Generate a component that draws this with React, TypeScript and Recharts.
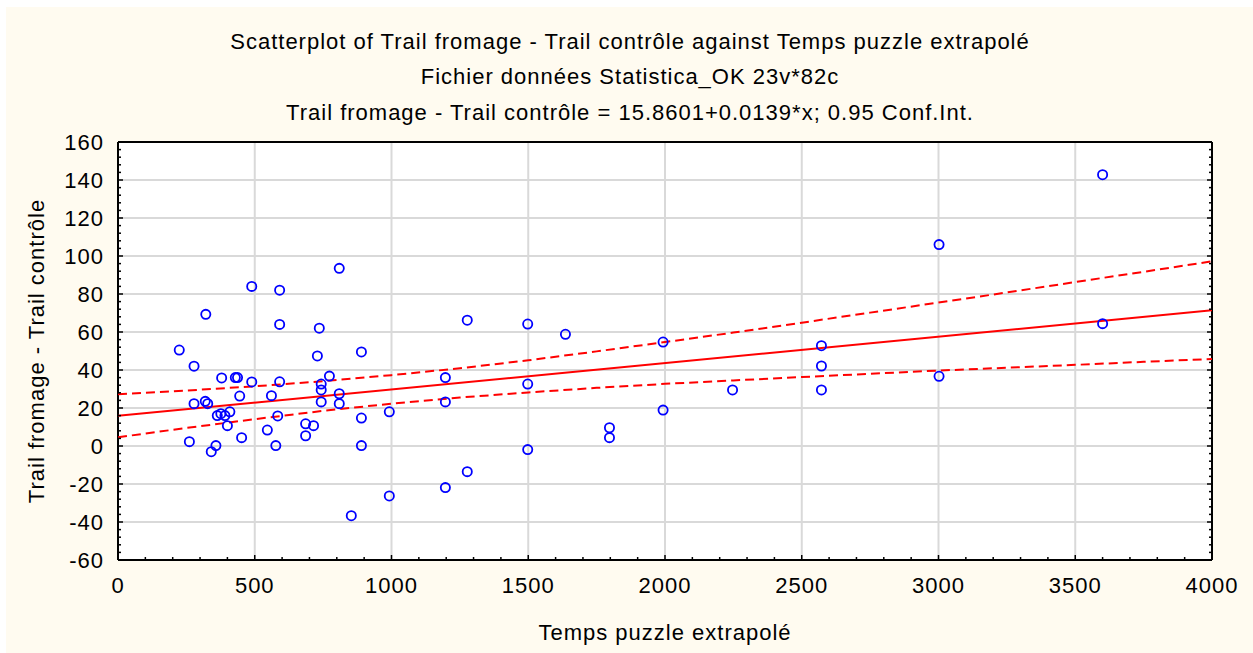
import React from 'react';
import { ScatterChart, Scatter, XAxis, YAxis, CartesianGrid } from 'recharts';

// Temps puzzle extrapolé (x) and Trail fromage - Trail contrôle (y)
const tempsPuzzle = [
  224, 261, 278, 278, 319, 321, 328, 341, 358, 363, 376, 379, 391, 400, 409, 429, 437, 445, 452,
  489, 489, 546, 561, 577, 584, 591, 591, 591, 686, 686, 715, 729, 736, 743, 743, 743, 773,
  809, 809, 809, 853, 890, 890, 890, 992, 992, 1197, 1197, 1197, 1277, 1277, 1498, 1498, 1498,
  1636, 1797, 1797, 1993, 1993, 2247, 2572, 2572, 2572, 3002, 3002, 3600, 3600,
];
const trailDiff = [
  50.5, 2.3, 42, 22.3, 23.5, 69.3, 22.3, -3, 0.2, 16, 17, 35.8, 16, 10.7, 18, 36, 36, 26.3, 4.4,
  84, 33.7, 8.4, 26.5, 0.2, 15.8, 82, 64, 33.8, 11.7, 5.4, 10.7, 47.4, 62, 32.6, 29.5, 23.2, 36.8,
  93.5, 27.5, 22.3, -36.7, 49.5, 14.7, 0.2, 18, -26.3, 36, 23.2, -21.9, 66.2, -13.5, 64.2, 32.6, -1.9,
  58.8, 9.6, 4.4, 54.7, 18.9, 29.5, 52.8, 42.1, 29.5, 36.7, 106, 142.8, 64.4,
];

// fitted line: 15.8601 + 0.0139*x, ends of the axis
const fitX = [0, 4000];
const fitY = [15.8601, 71.4601];

// 0.95 confidence band, read along the axis
const bandX = [0, 250, 500, 750, 1000, 1250, 1500, 1750, 2000, 2250, 2500, 2750, 3000, 3250, 3500, 3750, 4000];
const bandUpper = [27.2, 29.2, 31.4, 34.1, 37.3, 40.9, 45.1, 49.8, 54.7, 59.7, 64.9, 70.2, 75.5, 80.8, 86.3, 91.7, 97.2];
const bandLower = [4.6, 9.5, 14.1, 18.5, 22.3, 25.5, 28.2, 30.6, 32.7, 34.5, 36.3, 38.0, 39.7, 41.2, 42.7, 44.3, 45.8];

const xTicks = [0, 500, 1000, 1500, 2000, 2500, 3000, 3500, 4000];
const yTicks = [-60, -40, -20, 0, 20, 40, 60, 80, 100, 120, 140, 160];

const steps = (from: number, to: number, step: number) =>
  Array.from({ length: Math.round((to - from) / step) + 1 }, (_, i) => from + i * step);
const xMinor = steps(0, 4000, 100);
const yMinor = steps(-60, 160, 4);

const points = tempsPuzzle.map((x, i) => ({ x, y: trailDiff[i] }));
const fit = fitX.map((x, i) => ({ x, y: fitY[i] }));
const upper = bandX.map((x, i) => ({ x, y: bandUpper[i] }));
const lower = bandX.map((x, i) => ({ x, y: bandLower[i] }));

const FONT = '"Liberation Sans", Arial, sans-serif';
const txt = { fontFamily: FONT, fontSize: 22, letterSpacing: 1, fill: '#000' } as const;
const axisLine = { stroke: '#000', strokeWidth: 2 };

const isMajor = (v: number, step: number) => Math.abs(v % step) < 1e-9;

const BottomTick = (props: any) => {
  const { x, y, payload } = props;
  const major = isMajor(payload.value, 500);
  return (
    <g>
      <line x1={x} x2={x} y1={y} y2={y - (major ? 5 : 3)} stroke="#000" strokeWidth={1.5} />
      {major && (
        <text x={x} y={y + 33} textAnchor="middle" style={txt}>
          {payload.value}
        </text>
      )}
    </g>
  );
};

const TopTick = (props: any) => {
  const { x, y, payload } = props;
  const major = isMajor(payload.value, 500);
  return <line x1={x} x2={x} y1={y} y2={y + (major ? 5 : 3)} stroke="#000" strokeWidth={1.5} />;
};

const LeftTick = (props: any) => {
  const { x, y, payload } = props;
  const major = isMajor(payload.value, 20);
  return (
    <g>
      <line x1={x} x2={x + (major ? 5 : 3)} y1={y} y2={y} stroke="#000" strokeWidth={1.5} />
      {major && (
        <text x={x - 14} y={y + 8} textAnchor="end" style={txt}>
          {payload.value}
        </text>
      )}
    </g>
  );
};

const RightTick = (props: any) => {
  const { x, y, payload } = props;
  const major = isMajor(payload.value, 20);
  return <line x1={x} x2={x - (major ? 5 : 3)} y1={y} y2={y} stroke="#000" strokeWidth={1.5} />;
};

const Ring = (props: any) => (
  <circle cx={props.cx} cy={props.cy} r={4.6} fill="none" stroke="#0000FF" strokeWidth={1.8} />
);
const NoDot = () => <g />;

export default function App() {
  return (
    <div style={{ position: 'absolute', left: 0, top: 0, width: 1253, height: 653, background: '#fff' }}>
      <div style={{ position: 'absolute', left: 6, top: 7, right: 0, bottom: 0, background: '#FFFBF0' }} />
      <div style={{ position: 'absolute', left: 0, top: 0 }}>
        <ScatterChart width={1253} height={653} margin={{ top: 141, right: 40, bottom: 0, left: 0 }}>
          <CartesianGrid
            xAxisId="x"
            yAxisId="y"
            fill="#fff"
            stroke="#D9D9D9"
            strokeWidth={2}
            verticalValues={xTicks}
            horizontalValues={yTicks}
          />
          <XAxis
            xAxisId="x"
            type="number"
            dataKey="x"
            domain={[0, 4000]}
            allowDataOverflow
            ticks={xMinor}
            interval={0}
            height={93}
            tickSize={0}
            tickMargin={0}
            tickLine={false}
            axisLine={axisLine}
            tick={BottomTick}
          />
          <XAxis
            xAxisId="t"
            orientation="top"
            type="number"
            domain={[0, 4000]}
            allowDataOverflow
            ticks={xMinor}
            interval={0}
            height={1}
            tickSize={0}
            tickMargin={0}
            tickLine={false}
            axisLine={axisLine}
            tick={TopTick}
          />
          <YAxis
            yAxisId="y"
            type="number"
            dataKey="y"
            domain={[-60, 160]}
            allowDataOverflow
            ticks={yMinor}
            interval={0}
            width={118}
            tickSize={0}
            tickMargin={0}
            tickLine={false}
            axisLine={axisLine}
            tick={LeftTick}
          />
          <YAxis
            yAxisId="r"
            orientation="right"
            type="number"
            domain={[-60, 160]}
            allowDataOverflow
            ticks={yMinor}
            interval={0}
            width={1}
            tickSize={0}
            tickMargin={0}
            tickLine={false}
            axisLine={axisLine}
            tick={RightTick}
          />
          <Scatter
            xAxisId="x"
            yAxisId="y"
            data={upper}
            line={{ stroke: '#FF0000', strokeWidth: 2, strokeDasharray: '9 5' }}
            shape={NoDot}
            isAnimationActive={false}
          />
          <Scatter
            xAxisId="x"
            yAxisId="y"
            data={lower}
            line={{ stroke: '#FF0000', strokeWidth: 2, strokeDasharray: '9 5' }}
            shape={NoDot}
            isAnimationActive={false}
          />
          <Scatter
            xAxisId="x"
            yAxisId="y"
            data={fit}
            line={{ stroke: '#FF0000', strokeWidth: 2 }}
            shape={NoDot}
            isAnimationActive={false}
          />
          <Scatter xAxisId="x" yAxisId="y" data={points} shape={Ring} isAnimationActive={false} />
        </ScatterChart>
      </div>
      <svg
        width={1253}
        height={653}
        style={{ position: 'absolute', left: 0, top: 0, pointerEvents: 'none' }}
      >
        <text x={630} y={49} textAnchor="middle" style={txt}>
          Scatterplot of Trail fromage - Trail contrôle against Temps puzzle extrapolé
        </text>
        <text x={630} y={84} textAnchor="middle" style={txt}>
          Fichier données Statistica_OK 23v*82c
        </text>
        <text x={630} y={120} textAnchor="middle" style={txt}>
          Trail fromage - Trail contrôle = 15.8601+0.0139*x; 0.95 Conf.Int.
        </text>
        <text x={665} y={640} textAnchor="middle" style={txt}>
          Temps puzzle extrapolé
        </text>
        <text x={44} y={351} textAnchor="middle" transform="rotate(-90 44 351)" style={txt}>
          Trail fromage - Trail contrôle
        </text>
      </svg>
    </div>
  );
}
